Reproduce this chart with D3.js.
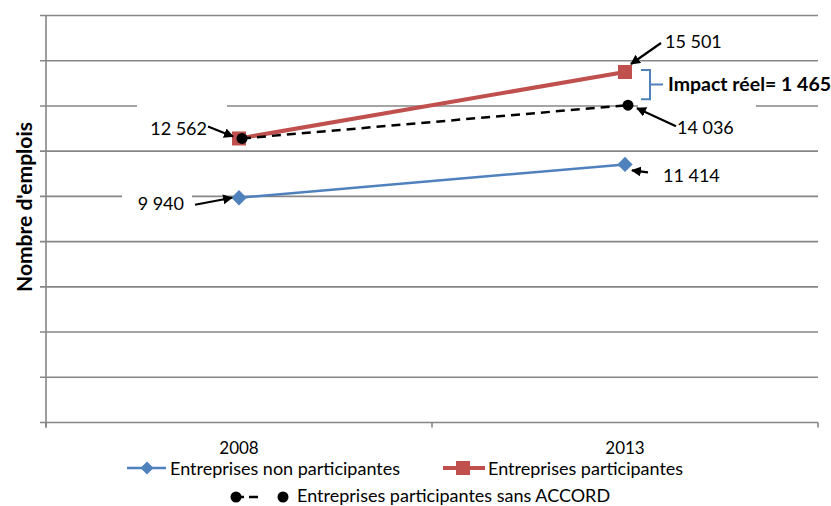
<!DOCTYPE html>
<html>
<head>
<meta charset="utf-8">
<script src="https://cdn.jsdelivr.net/npm/d3@7"></script>
<style>
  body { margin: 0; background: #fff; }
  svg { display: block; font-family: Lato, "Noto Sans", sans-serif; }
</style>
</head>
<body>
<svg id="chart" width="831" height="506"></svg>
<script>
// données
const years = ["2008", "2013"];
const nonParticipantes = [9940, 11414];
const participantes = [12562, 15501];
const sansAccord = [12562, 14036];
const yMax = 18000;
const yStep = 2000;
const impactLabel = "Impact réel= 1 465";
const seriesNames = ["Entreprises non participantes", "Entreprises participantes", "Entreprises participantes sans ACCORD"];

const blue = "#4F81BD", red = "#C0504D", grid = "#868686";
const plotL = 46, plotR = 818, plotT = 15.5, plotB = 422.5;

const svg = d3.select("#chart");

const x = d3.scaleBand().domain(years).range([plotL, plotR]);
const y = d3.scaleLinear().domain([0, yMax]).range([plotB, plotT]);
const cx = d => x(d) + x.bandwidth() / 2;

// flèches
svg.append("defs").append("marker")
  .attr("id", "arrow").attr("viewBox", "0 0 10 10")
  .attr("refX", 9).attr("refY", 5)
  .attr("markerWidth", 4.5).attr("markerHeight", 4.5)
  .attr("markerUnits", "strokeWidth")
  .attr("orient", "auto")
  .append("path").attr("d", "M0,0 L10,5 L0,10 Z").attr("fill", "#000");

// grille
const yTicks = d3.range(0, yMax + 1, yStep);
svg.append("g").selectAll("line").data(yTicks.filter(t => t > 0)).enter()
  .append("line")
  .attr("x1", plotL - 6).attr("x2", plotR)
  .attr("y1", d => y(d)).attr("y2", d => y(d))
  .attr("stroke", grid).attr("stroke-width", 1.6);

// axes
svg.append("line").attr("x1", plotL).attr("x2", plotL).attr("y1", plotT).attr("y2", plotB + 5)
  .attr("stroke", grid).attr("stroke-width", 1.6);
svg.append("line").attr("x1", plotL - 6).attr("x2", plotR).attr("y1", plotB).attr("y2", plotB)
  .attr("stroke", grid).attr("stroke-width", 1.6);
svg.append("g").selectAll("line").data([plotL, x(years[1]), plotR]).enter()
  .append("line").attr("x1", d => d).attr("x2", d => d)
  .attr("y1", plotB).attr("y2", plotB + 5)
  .attr("stroke", grid).attr("stroke-width", 1.6);

svg.append("g").selectAll("text").data(years).enter()
  .append("text")
  .attr("x", d => cx(d)).attr("y", 454)
  .attr("text-anchor", "middle").attr("font-size", 17).attr("fill", "#000")
  .text(d => d);

// titre axe Y
svg.append("text")
  .attr("transform", "translate(32,207) rotate(-90)")
  .attr("text-anchor", "middle").attr("font-size", 21).attr("font-weight", "bold")
  .attr("textLength", 170).attr("lengthAdjust", "spacingAndGlyphs")
  .text("Nombre d'emplois");

// fonds blancs des étiquettes
const bgBoxes = [[137, 96, 90, 22], [122, 188, 70, 22], [638, 99, 118, 40]];
svg.append("g").selectAll("rect").data(bgBoxes).enter().append("rect")
  .attr("x", d => d[0]).attr("y", d => d[1]).attr("width", d => d[2]).attr("height", d => d[3])
  .attr("fill", "#fff");

// séries
const line = d3.line().x(d => cx(d[0])).y(d => y(d[1]));
const pts = vals => years.map((yr, i) => [yr, vals[i]]);

svg.append("path").datum(pts(nonParticipantes)).attr("d", line)
  .attr("fill", "none").attr("stroke", blue).attr("stroke-width", 2.5);
svg.append("path").datum(pts(participantes)).attr("d", line)
  .attr("fill", "none").attr("stroke", red).attr("stroke-width", 4);
svg.append("path").datum(pts(sansAccord)).attr("d", d3.line().x(d => cx(d[0]) + 3).y(d => y(d[1])))
  .attr("fill", "none").attr("stroke", "#000").attr("stroke-width", 2.5)
  .attr("stroke-dasharray", "9,6");

svg.append("g").selectAll("path").data(pts(nonParticipantes)).enter().append("path")
  .attr("d", d3.symbol(d3.symbolDiamond2, 150)())
  .attr("transform", d => "translate(" + cx(d[0]) + "," + y(d[1]) + ")")
  .attr("fill", blue);
svg.append("g").selectAll("rect").data(pts(participantes)).enter().append("rect")
  .attr("x", d => cx(d[0]) - 7).attr("y", d => y(d[1]) - 7)
  .attr("width", 14).attr("height", 14).attr("fill", red);
svg.append("g").selectAll("circle").data(pts(sansAccord)).enter().append("circle")
  .attr("cx", d => cx(d[0]) + 3).attr("cy", d => y(d[1]))
  .attr("r", 5.5).attr("fill", "#000");

// étiquettes de valeurs
const fmt = v => d3.format(",")(v).replace(",", " ");
function label(txt, px, py, anchor) {
  svg.append("text").attr("x", px).attr("y", py).attr("text-anchor", anchor || "start")
    .attr("font-size", 18).attr("fill", "#000").text(txt);
}
function arrow(x1, y1, x2, y2) {
  svg.append("line").attr("x1", x1).attr("y1", y1).attr("x2", x2).attr("y2", y2)
    .attr("stroke", "#000").attr("stroke-width", 2.2).attr("marker-end", "url(#arrow)");
}
const x08 = cx(years[0]), x13 = cx(years[1]);

label(fmt(participantes[0]), 207, y(participantes[0]) - 3, "end");
arrow(208, y(participantes[0]) - 12, x08 - 6, y(participantes[0]) - 2);

label(fmt(nonParticipantes[0]), 184, y(nonParticipantes[0]) + 12, "end");
arrow(195, y(nonParticipantes[0]) + 7, x08 - 7, y(nonParticipantes[0]));

label(fmt(participantes[1]), 665, y(participantes[1]) - 24);
arrow(661, y(participantes[1]) - 29, x13 + 6, y(participantes[1]) - 8);

label(fmt(sansAccord[1]), 677, y(sansAccord[1]) + 29);
arrow(676, y(sansAccord[1]) + 21, x13 + 12, y(sansAccord[1]) + 3);

label(fmt(nonParticipantes[1]), 663, y(nonParticipantes[1]) + 18);
arrow(648, y(nonParticipantes[1]) + 8, x13 + 7, y(nonParticipantes[1]) + 6);

// accolade impact
const bTop = y(participantes[1]) - 2, bBot = y(sansAccord[1]) - 6;
svg.append("path")
  .attr("d", `M641,${bTop} H650 V${bBot} H641 M650,${(bTop + bBot) / 2} H663`)
  .attr("fill", "none").attr("stroke", blue).attr("stroke-width", 2);
svg.append("text").attr("x", 668).attr("y", (bTop + bBot) / 2 + 6.5)
  .attr("font-size", 19.5).attr("font-weight", "bold").text(impactLabel);

// légende
const lg = svg.append("g").attr("font-size", 18);
lg.append("line").attr("x1", 127).attr("x2", 166).attr("y1", 468).attr("y2", 468).attr("stroke", blue).attr("stroke-width", 2.5);
lg.append("path").attr("d", d3.symbol(d3.symbolDiamond2, 110)()).attr("transform", "translate(147,468)").attr("fill", blue);
lg.append("text").attr("x", 170).attr("y", 475).text(seriesNames[0]);

lg.append("line").attr("x1", 443).attr("x2", 485).attr("y1", 468).attr("y2", 468).attr("stroke", red).attr("stroke-width", 4);
lg.append("rect").attr("x", 456).attr("y", 461).attr("width", 14).attr("height", 14).attr("fill", red);
lg.append("text").attr("x", 488).attr("y", 475).text(seriesNames[1]);

lg.append("line").attr("x1", 235).attr("x2", 283).attr("y1", 497).attr("y2", 497)
  .attr("stroke", "#000").attr("stroke-width", 2.5).attr("stroke-dasharray", "9,5,9,50");
lg.append("circle").attr("cx", 236).attr("cy", 497).attr("r", 5.5);
lg.append("circle").attr("cx", 283).attr("cy", 497).attr("r", 5.5);
lg.append("text").attr("x", 297).attr("y", 502).text(seriesNames[2]);
</script>
</body>
</html>
